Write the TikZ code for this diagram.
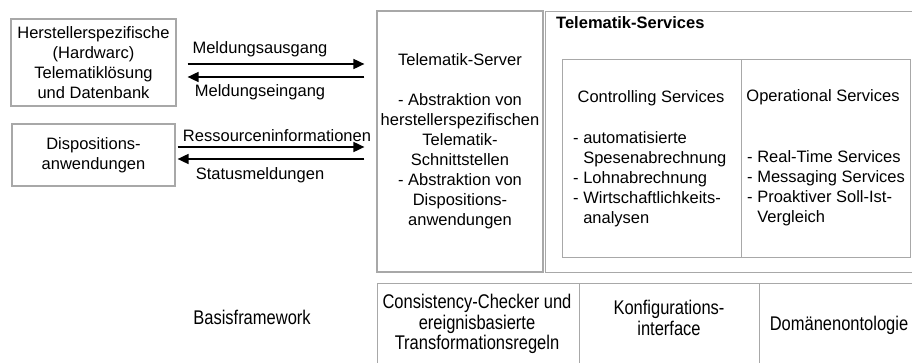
\documentclass[tikz,border=0pt]{standalone}
\usepackage{fontspec}
\setmainfont{Liberation Sans}
\usetikzlibrary{arrows.meta,calc}
\definecolor{boxgray}{HTML}{A8A8A8}
\newcommand\vstretch[1]{\scalebox{1}[1.2]{#1}}
\begin{document}
\begin{tikzpicture}[x=1pt,y=-1pt,
  box/.style={draw=boxgray,line width=1.2pt},
  txt/.style={inner sep=0pt,font=\fontsize{16.5}{20}\selectfont,align=center},
  ltxt/.style={inner sep=0pt,font=\fontsize{16.5}{20}\selectfont,align=left},
  btxt/.style={inner sep=0pt,font=\fontsize{16.5}{16.7}\selectfont},
  arr/.style={-{Triangle[length=11pt,width=10pt]},line width=1.7pt}]
\useasboundingbox (0,0) rectangle (912,363);
% left boxes
\node[box,txt,minimum width=165pt,minimum height=87pt] (h) at (93.5,62.5)
  {Herstellerspezifische\\(Hardwarc)\\Telematiklösung\\und Datenbank};
\node[box,txt,minimum width=163pt,minimum height=62pt] (d) at (93.5,155)
  {Dispositions-\\anwendungen};
% server
\node[box,txt,minimum width=166pt,minimum height=261pt] (srv) at (460,141.5)
  {Telematik-Server\\[20pt]- Abstraktion von\\herstellerspezifischen\\Telematik-\\Schnittstellen\\- Abstraktion von\\Dispositions-\\anwendungen};
% services
\node[box,anchor=north west,minimum width=372pt,minimum height=261pt] (ts) at (545,11) {};
\node[txt,anchor=west,font=\fontsize{16.5}{20}\selectfont\bfseries] (tst) at (556,23) {Telematik-Services};
\node[box,anchor=north west,minimum width=179pt,minimum height=198pt] (cs) at (562,59) {};
\node[box,anchor=north west,minimum width=169pt,minimum height=198pt] (os) at (741,59) {};
\node[txt] (cst) at (651,98) {Controlling Services};
\node[ltxt,anchor=north west] (csl) at (573,131)
  {- automatisierte\\\phantom{- }Spesenabrechnung\\- Lohnabrechnung\\- Wirtschaftlichkeits-\\\phantom{- }analysen};
\node[txt] (ost) at (823,97) {Operational Services};
\node[ltxt,anchor=north west] (osl) at (747,150)
  {- Real-Time Services\\- Messaging Services\\- Proaktiver Soll-Ist-\\\phantom{- }Vergleich};
% arrows
\coordinate (hE) at ($(h.east)+(11,0)$);
\coordinate (dE) at ($(d.east)+(2,0)$);
\coordinate (sW) at ($(srv.west)+(-12,0)$);
\draw[arr] (hE |- 0,64) -- (sW |- 0,64);
\draw[arr] (sW |- 0,77) -- (hE |- 0,77);
\draw[arr] (dE |- 0,147) -- (sW |- 0,147);
\draw[arr] (sW |- 0,159) -- (dE |- 0,159);
\node[txt] (l1) at (260,49) {Meldungsausgang};
\node[txt] (l2) at (260,92) {Meldungseingang};
\node[txt] (l3) at (277,136) {Ressourceninformationen};
\node[txt] (l4) at (260,175) {Statusmeldungen};
% bottom row
\node[box,anchor=north west,minimum width=202pt,minimum height=100pt] (cc) at (377,283) {};
\node[box,anchor=north west,minimum width=180pt,minimum height=100pt] (kf) at (579,283) {};
\node[box,anchor=north west,minimum width=160pt,minimum height=100pt] (dm) at (759,283) {};
\node[btxt] (bf) at (252,317) {\vstretch{Basisframework}};
\node[btxt] (cct) at (477,325) {\vstretch{\begin{tabular}{@{}c@{}}Consistency-Checker und\\ereignisbasierte\\Transformationsregeln\end{tabular}}};
\node[btxt] (kft) at (669,321) {\vstretch{\begin{tabular}{@{}c@{}}Konfigurations-\\interface\end{tabular}}};
\node[btxt] (dmt) at (839,325) {\vstretch{Domänenontologie}};
\end{tikzpicture}
\end{document}
